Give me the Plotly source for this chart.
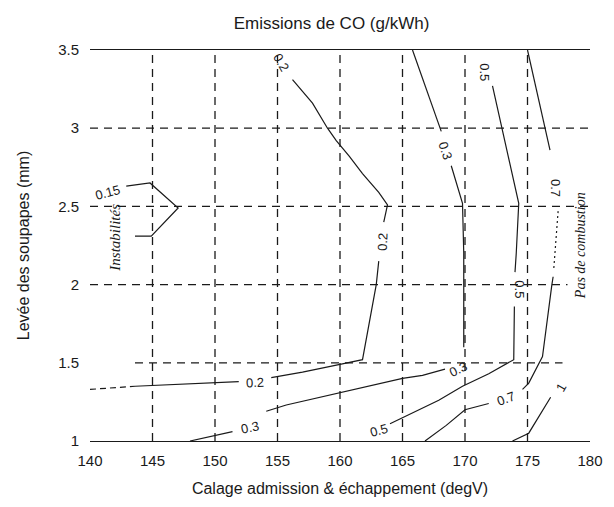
import plotly.graph_objects as go

# axis ticks
x_ticks = [140, 145, 150, 155, 160, 165, 170, 175, 180]
y_ticks = [1, 1.5, 2, 2.5, 3, 3.5]
x_grid = [145, 150, 155, 160, 165, 170, 175]
# horizontal grid lines: level, start, end
y_grid = [1.5, 2, 2.5, 3]
y_grid_start = [143.6, 140, 140, 140]
y_grid_end = [177.8, 178.2, 180, 180]

# contour 0.15 (closed wedge near instability zone)
c015_x = [142.9, 144.8, 147.05, 144.9, 143.6]
c015_y = [2.63, 2.65, 2.49, 2.31, 2.31]

# contour 0.2
c02_x = [143.6, 149.0, 151.9, None, 154.5, 157.0, 160.0, 161.8, 162.9, 163.1, None,
         163.5, 163.8, 163.1, 161.8, 160.75, 159.7, 159.0, 157.8, 156.2]
c02_y = [1.35, 1.37, 1.38, None, 1.405, 1.44, 1.49, 1.52, 2.0, 2.15, None,
         2.4, 2.51, 2.59, 2.71, 2.82, 2.92, 3.0, 3.16, 3.31]
c02_ext_x = [140.0, 143.6]
c02_ext_y = [1.33, 1.35]

# contour 0.3
c03_x = [165.8, 168.1, None, 168.9, 169.8, 169.9, 169.9, None,
         168.4, 166.6, 165.0, 161.8, 160.0, 155.7, 154.1, None, 151.4, 149.8, 148.0]
c03_y = [3.5, 2.98, None, 2.76, 2.52, 2.2, 1.6, None,
         1.46, 1.42, 1.40, 1.34, 1.31, 1.23, 1.19, None, 1.06, 1.03, 1.0]

# contour 0.5
c05_x = [172.2, 174.3, 174.1, 174.0, None, 173.95, 173.9, 171.9, 169.8, 167.9, 165.0, 164.0]
c05_y = [3.27, 2.52, 2.2, 2.08, None, 1.86, 1.52, 1.43, 1.35, 1.26, 1.15, 1.11]

# contour 0.7
c07_x = [175.0, 176.8, None, 177.05, 176.95, 176.2, 175.6, 175.1, 174.6, None,
         171.9, 170.0, 168.5, 166.8]
c07_y = [3.5, 2.86, None, 2.05, 2.0, 1.54, 1.45, 1.37, 1.33, None,
         1.24, 1.2, 1.1, 1.0]
c07_dot_x = [177.45, 177.3, 177.1]
c07_dot_y = [2.47, 2.3, 2.1]

# contour 1
c1_x = [176.85, 175.1, 173.8]
c1_y = [1.28, 1.05, 1.0]

# contour labels: text, x, y, angle
lab_text = ["0.15", "0.2", "0.2", "0.2", "0.3", "0.3", "0.3", "0.5", "0.5", "0.5", "0.7", "0.7", "1"]
lab_x = [141.4, 155.3, 163.4, 153.2, 168.45, 169.4, 152.8, 171.5, 174.4, 163.1, 177.25, 173.3, 177.7]
lab_y = [2.59, 3.42, 2.27, 1.375, 2.86, 1.46, 1.085, 3.36, 1.97, 1.065, 2.62, 1.27, 1.34]
lab_ang = [-15, 60, -88, -3, 72, -25, -12, 90, 90, -15, 90, -20, -60]

ink = "#1a1a1a"
fig = go.Figure()

gx, gy = [], []
for xv in x_grid:
    gx += [xv, xv, None]
    gy += [1, 3.5, None]
for yv, xs, xe in zip(y_grid, y_grid_start, y_grid_end):
    gx += [xs, xe, None]
    gy += [yv, yv, None]
fig.add_trace(go.Scatter(x=gx, y=gy, mode="lines",
                         line=dict(color=ink, width=1.3, dash="8px,6px"),
                         hoverinfo="skip", showlegend=False))

def add_line(xs, ys, dash="solid", width=1.2):
    fig.add_trace(go.Scatter(x=xs, y=ys, mode="lines", connectgaps=False,
                             line=dict(color=ink, width=width, dash=dash),
                             hoverinfo="skip", showlegend=False))

add_line(c015_x, c015_y)
add_line(c02_x, c02_y)
add_line(c02_ext_x, c02_ext_y, dash="6px,4px")
add_line(c03_x, c03_y)
add_line(c05_x, c05_y)
add_line(c07_x, c07_y)
add_line(c07_dot_x, c07_dot_y, dash="2px,3px")
add_line(c1_x, c1_y)

for t, x, y, a in zip(lab_text, lab_x, lab_y, lab_ang):
    fig.add_annotation(x=x, y=y, text=t, showarrow=False, textangle=a,
                       font=dict(family="Liberation Sans", size=13, color=ink))

fig.add_annotation(x=142.0, y=2.30, text="<i>Instabilités</i>", showarrow=False,
                   textangle=-90,
                   font=dict(family="Liberation Serif", size=15, color=ink))
fig.add_annotation(x=179.25, y=2.25, text="<i>Pas de combustion</i>", showarrow=False,
                   textangle=-90,
                   font=dict(family="Liberation Serif", size=14, color=ink))

fig.update_layout(
    width=614, height=507,
    margin=dict(l=90, r=24, t=50, b=66),
    paper_bgcolor="white", plot_bgcolor="white",
    font=dict(family="Liberation Sans", color=ink),
    title=dict(text="Emissions de CO (g/kWh)", x=0.54, xanchor="center",
               y=0.955, yanchor="middle",
               font=dict(family="Liberation Sans", size=17, color=ink)),
    xaxis=dict(range=[140, 180], tickvals=x_ticks, ticktext=[str(v) for v in x_ticks],
               showgrid=False, zeroline=False, showline=True, mirror=True,
               linecolor=ink, linewidth=1.3, ticks="", ticklabelstandoff=6,
               tickfont=dict(size=15),
               title=dict(text="Calage admission & échappement (degV)",
                          font=dict(size=16), standoff=14)),
    yaxis=dict(range=[1, 3.5], tickvals=y_ticks,
               ticktext=["1", "1.5", "2", "2.5", "3", "3.5"],
               showgrid=False, zeroline=False, showline=False, ticks="",
               ticklabelstandoff=10, tickfont=dict(size=15),
               title=dict(text="Levée des soupapes (mm)", font=dict(size=16), standoff=24)),
)

fig.write_html("out.html")
